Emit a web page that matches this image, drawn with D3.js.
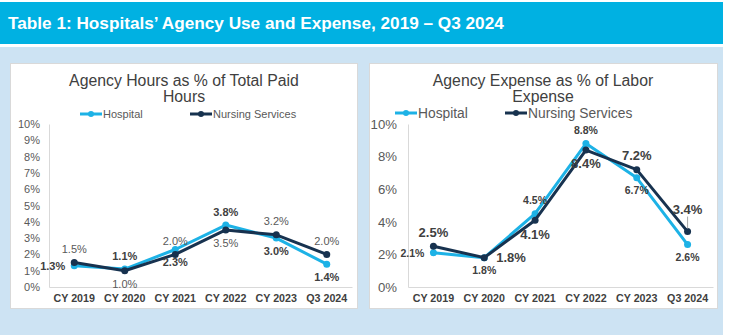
<!DOCTYPE html>
<html>
<head>
<meta charset="utf-8">
<script src="https://cdn.jsdelivr.net/npm/d3@7"></script>
<style>
  body { margin: 0; background: #ffffff; }
  svg { display: block; font-family: "Liberation Sans", Arial, sans-serif; }
</style>
</head>
<body>
<div id="chart"></div>
<script>
/* DATA */

const categories = ["CY 2019", "CY 2020", "CY 2021", "CY 2022", "CY 2023", "Q3 2024"];
const seriesNames = ["Hospital", "Nursing Services"];

// agency hours as % of total paid hours
const hoursHospital = [1.3, 1.1, 2.3, 3.8, 3.0, 1.4];
const hoursNursing  = [1.5, 1.0, 2.0, 3.5, 3.2, 2.0];
const hoursTicks = [0, 1, 2, 3, 4, 5, 6, 7, 8, 9, 10];

// agency expense as % of labor expense
const expenseHospital = [2.1, 1.8, 4.5, 8.8, 6.7, 2.6];
const expenseNursing  = [2.5, 1.8, 4.1, 8.4, 7.2, 3.4];
const expenseTicks = [0, 2, 4, 6, 8, 10];

/* STYLE */

const colors = ["#1db2e6", "#17324f"];
const svg = d3.select("#chart").append("svg")
    .attr("width", 730)
    .attr("height", 335);

// header + backdrop
svg.append("rect").attr("x", 0).attr("y", 47).attr("width", 723).attr("height", 288).attr("fill", "#cde3f3");
svg.append("rect").attr("x", 0).attr("y", 2).attr("width", 723).attr("height", 42).attr("fill", "#00b1e2");
svg.append("text")
    .attr("x", 8).attr("y", 29)
    .attr("fill", "#ffffff")
    .attr("font-size", 17.2)
    .attr("font-weight", "bold")
    .text("Table 1: Hospitals\u2019 Agency Use and Expense, 2019 \u2013 Q3 2024");

// panel settings
const panels = [
    {
        box: [10, 63, 347, 245],
        title: ["Agency Hours as % of Total Paid", "Hours"],
        titleX: 184, titleSize: 15.8,
        legend: { y: 114, x: [80, 190], size: 11 },
        plot: { x0: 49, x1: 352, y0: 287, y1: 124 },
        ticks: hoursTicks, tickSize: 11, tickPad: 9,
        values: [hoursHospital, hoursNursing],
        labelFont: [
            { size: 11, weight: "bold", color: "#404040" },
            { size: 11, weight: "normal", color: "#595959" }
        ],
        placement: [
            ["left", "above", "below", "above", "below", "below"],
            ["above", "below", "above", "below", "above", "above"]
        ]
    },
    {
        box: [369, 63, 348, 245],
        title: ["Agency Expense as % of Labor", "Expense"],
        titleX: 543, titleSize: 15.8,
        legend: { y: 113, x: [395, 505], size: 13.8 },
        plot: { x0: 408, x1: 713, y0: 287, y1: 124 },
        ticks: expenseTicks, tickSize: 13.2, tickPad: 11,
        values: [expenseHospital, expenseNursing],
        labelFont: [
            { size: 10.5, weight: "bold", color: "#404040" },
            { size: 13, weight: "bold", color: "#404040" }
        ],
        placement: [
            ["left", "below", "above", "above", "below", "below"],
            ["above", "right", "below", "below", "above", "callout"]
        ]
    }
];

panels.forEach(drawPanel);

function drawPanel(p) {
    const g = svg.append("g");
    g.append("rect")
        .attr("x", p.box[0] + 0.5).attr("y", p.box[1] + 0.5)
        .attr("width", p.box[2]).attr("height", p.box[3])
        .attr("fill", "#ffffff").attr("stroke", "#d9d9d9");

    // title
    p.title.forEach((t, i) => {
        g.append("text")
            .attr("x", p.titleX).attr("y", 86 + i * 16)
            .attr("text-anchor", "middle")
            .attr("font-size", p.titleSize)
            .attr("fill", "#404040")
            .text(t);
    });

    // legend
    seriesNames.forEach((name, i) => {
        const lx = p.legend.x[i];
        g.append("line")
            .attr("x1", lx).attr("x2", lx + 22)
            .attr("y1", p.legend.y).attr("y2", p.legend.y)
            .attr("stroke", colors[i]).attr("stroke-width", 3);
        g.append("circle")
            .attr("cx", lx + 11).attr("cy", p.legend.y).attr("r", 3)
            .attr("fill", colors[i]);
        g.append("text")
            .attr("x", lx + 23).attr("y", p.legend.y + p.legend.size * 0.36)
            .attr("font-size", p.legend.size)
            .attr("fill", "#595959")
            .text(name);
    });

    // scales
    const x = d3.scaleBand().domain(categories).range([p.plot.x0, p.plot.x1]);
    const y = d3.scaleLinear().domain([0, 10]).range([p.plot.y0, p.plot.y1]);
    const cx = (d) => x(d) + x.bandwidth() / 2;

    // axes
    const yAxis = g.append("g")
        .attr("transform", `translate(${p.plot.x0},0)`)
        .call(d3.axisLeft(y).tickValues(p.ticks).tickSize(0).tickPadding(p.tickPad)
            .tickFormat((d) => d + "%"));
    yAxis.select(".domain").attr("stroke", "#d9d9d9");
    yAxis.selectAll("text")
        .attr("font-size", p.tickSize)
        .attr("font-family", "Liberation Sans, Arial, sans-serif")
        .attr("fill", "#595959");

    const xAxis = g.append("g")
        .attr("transform", `translate(0,${p.plot.y0})`)
        .call(d3.axisBottom(x).tickSize(0).tickPadding(7));
    xAxis.select(".domain").attr("stroke", "#d9d9d9");
    xAxis.selectAll("text")
        .attr("font-size", 10.7)
        .attr("font-weight", "bold")
        .attr("font-family", "Liberation Sans, Arial, sans-serif")
        .attr("fill", "#404040");

    // series lines + markers
    const line = d3.line()
        .x((d, i) => cx(categories[i]))
        .y((d) => y(d));

    p.values.forEach((vals, s) => {
        g.append("path")
            .datum(vals)
            .attr("d", line)
            .attr("fill", "none")
            .attr("stroke", colors[s])
            .attr("stroke-width", 3)
            .attr("stroke-linejoin", "round");
        g.selectAll(null)
            .data(vals)
            .enter()
            .append("circle")
            .attr("cx", (d, i) => cx(categories[i]))
            .attr("cy", (d) => y(d))
            .attr("r", 3.5)
            .attr("fill", colors[s]);
    });

    // data labels
    p.values.forEach((vals, s) => {
        const f = p.labelFont[s];
        vals.forEach((v, i) => {
            const px = cx(categories[i]);
            const py = y(v);
            const pos = p.placement[s][i];
            let tx = px, ty = py, anchor = "middle";
            if (pos === "above") ty = py - 9.5;
            else if (pos === "below") ty = py + 9 + f.size * 0.72;
            else if (pos === "left") { tx = px - 9; ty = py + 4; anchor = "end"; }
            else if (pos === "right") { tx = px + 12; ty = py + 4; anchor = "start"; }
            else if (pos === "callout") {
                ty = py - 18;
                g.append("line")
                    .attr("x1", px).attr("x2", px)
                    .attr("y1", ty + 3).attr("y2", py - 3)
                    .attr("stroke", "#a6a6a6").attr("stroke-width", 1);
            }
            g.append("text")
                .attr("x", tx).attr("y", ty)
                .attr("text-anchor", anchor)
                .attr("font-size", f.size)
                .attr("font-weight", f.weight)
                .attr("fill", f.color)
                .text(v.toFixed(1) + "%");
        });
    });
}
</script>
</body>
</html>
